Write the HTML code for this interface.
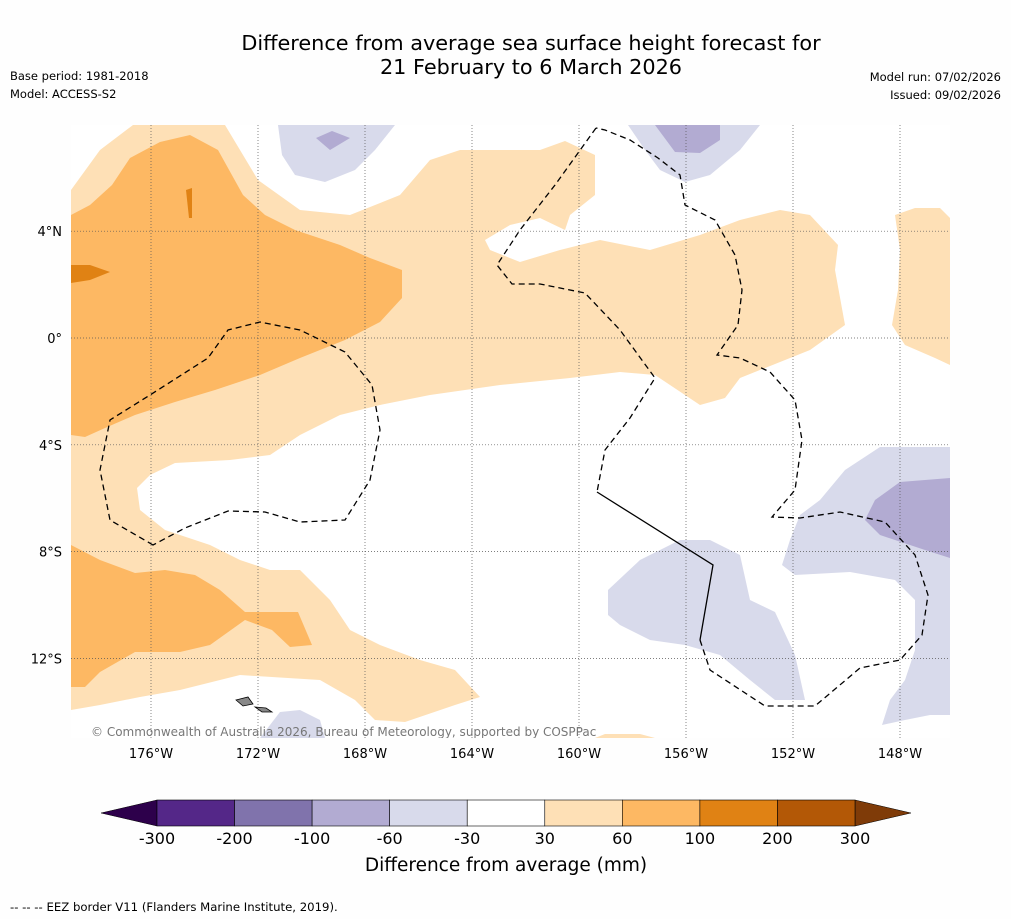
<!DOCTYPE html>
<html><head><meta charset="utf-8"><style>
body{margin:0;background:#fff;font-family:"DejaVu Sans",sans-serif;}
svg text{font-family:"DejaVu Sans",sans-serif;}
</style></head><body>
<svg id="chart" width="1011" height="919" viewBox="0 0 1011 919" xmlns="http://www.w3.org/2000/svg">
<rect width="1011" height="919" fill="#fefefe"/>
<text x="531" y="50" font-size="20.8" text-anchor="middle">Difference from average sea surface height forecast for</text>
<text x="531" y="74" font-size="20.8" text-anchor="middle">21 February to 6 March 2026</text>
<text x="10" y="80" font-size="11.5">Base period: 1981-2018</text>
<text x="10" y="98" font-size="11.5">Model: ACCESS-S2</text>
<text x="1001" y="81" font-size="11.5" text-anchor="end">Model run: 07/02/2026</text>
<text x="1001" y="99" font-size="11.5" text-anchor="end">Issued: 09/02/2026</text>
<g id="map">
<clipPath id="clip"><rect x="71" y="125" width="879" height="613"/></clipPath>
<g clip-path="url(#clip)">
<rect x="71" y="125" width="879" height="613" fill="#fff"/>
<polygon fill="#fee0b6" points="71,190 100,150 133,125 225,125 258,180 300,210 350,215 400,195 430,160 460,150 540,150 565,141 595,155 595,195 570,215 565,230 540,218 510,225 485,240 490,250 520,262 560,250 600,240 650,250 700,235 740,220 780,210 810,215 838,245 835,270 845,325 810,350 740,378 725,398 700,405 670,385 655,375 620,372 570,378 500,385 430,395 380,405 340,415 300,435 270,455 230,460 175,463 150,475 137,488 140,510 165,530 210,545 240,560 270,570 300,570 330,600 350,630 380,645 420,660 455,670 480,697 455,705 405,722 375,720 355,700 320,680 240,675 180,690 140,697 100,705 71,710"/>
<polygon fill="#fee0b6" points="895,215 915,208 940,208 950,218 950,365 935,358 905,345 892,325 898,290 900,250"/>
<polygon fill="#fee0b6" points="595,738 605,734 640,734 655,738"/>
<polygon fill="#fdb863" points="71,215 90,205 112,185 130,158 160,142 190,135 218,150 243,195 265,215 295,230 340,245 370,258 402,270 402,298 380,322 345,340 300,358 260,375 215,390 175,402 135,415 105,428 85,437 71,435"/>
<polygon fill="#e08214" points="71,265 90,265 110,272 90,280 71,283"/>
<polygon fill="#e08214" points="186,190 192,188 192,218 189,218"/>
<polygon fill="#fdb863" points="71,545 100,560 135,573 165,570 195,575 220,590 245,612 298,612 312,645 290,647 272,630 245,620 210,645 180,652 135,652 100,672 85,687 71,687"/>
<polygon fill="#d8daeb" points="278,125 395,125 375,150 355,170 325,182 295,175 282,155"/>
<polygon fill="#b2abd2" points="316,138 332,131 350,138 330,150"/>
<polygon fill="#d8daeb" points="628,125 760,125 740,150 710,175 685,182 660,170 645,150"/>
<polygon fill="#b2abd2" points="655,125 720,125 720,140 700,153 675,152"/>
<polygon fill="#d8daeb" points="608,590 640,560 680,540 710,540 740,555 750,600 775,612 795,655 805,700 775,700 750,680 720,655 685,645 650,640 620,625 608,615"/>
<polygon fill="#d8daeb" points="950,447 880,447 845,470 820,500 800,515 790,540 782,565 795,575 850,572 895,580 915,600 915,650 905,680 890,700 882,725 905,720 930,715 950,715"/>
<polygon fill="#b2abd2" points="950,478 900,482 875,500 865,520 880,535 925,550 950,558"/>
<polygon fill="#d8daeb" points="260,738 280,712 300,710 320,720 325,738"/>
<g id="grid" stroke="#555" stroke-width="0.7" stroke-dasharray="1,2"></g>
<path fill="none" stroke="#000" stroke-width="1.3" stroke-dasharray="6,4" d="M153,545 L110,520 L100,470 L110,420 L150,395 L208,358 L228,330 L260,322 L300,330 L345,352 L372,385 L380,430 L370,480 L345,520 L300,522 L265,512 L228,511 L185,528 Z"/>
<path fill="none" stroke="#000" stroke-width="1.3" stroke-dasharray="6,4" d="M596,128 L555,185 L520,230 L497,265 L512,284 L540,284 L585,293 L620,330 L655,378 L630,418 L605,450 L597,492 M700,640 L710,670 L765,706 L815,706 L860,668 L900,660 L922,635 L928,595 L915,555 L885,522 L840,512 L800,518 L772,517 L795,490 L802,440 L795,400 L770,372 L740,358 L717,355 L738,325 L742,290 L735,255 L715,220 L685,205 L680,175 L658,158 L630,140 L605,130 L596,128"/>
<path fill="none" stroke="#000" stroke-width="1.3" d="M597,492 L713,565 L700,640"/>
<polygon fill="#888" stroke="#000" stroke-width="0.8" points="236,700 248,697 253,704 243,706"/>
<polygon fill="#888" stroke="#000" stroke-width="0.8" points="255,707 266,708 272,712 262,712"/>
<text x="91" y="736" font-size="12" fill="#777">© Commonwealth of Australia 2026, Bureau of Meteorology, supported by COSPPac</text>
</g>
<g id="axes"></g>
</g>
<g id="colorbar"></g>
<text x="506" y="871" font-size="18.5" text-anchor="middle">Difference from average (mm)</text>
<text x="10" y="911" font-size="11.7">--  --  -- EEZ border V11 (Flanders Marine Institute, 2019).</text>
</svg>
<script>
const lonTicks = [-176,-172,-168,-164,-160,-156,-152,-148];
const latTicks = [4,0,-4,-8,-12];
const cbLevels = [-300,-200,-100,-60,-30,30,60,100,200,300];
const cbColors = ['#542788','#8073ac','#b2abd2','#d8daeb','#ffffff','#fee0b6','#fdb863','#e08214','#b35806'];
const NS='http://www.w3.org/2000/svg';
function xLon(l){return 151+(l+176)*26.75;}
function yLat(l){return 338-l*26.7;}
function mk(t,a,p){const e=document.createElementNS(NS,t);for(const k in a)e.setAttribute(k,a[k]);p.appendChild(e);return e;}
const grid=document.getElementById('grid'),axes=document.getElementById('axes');
lonTicks.forEach(l=>{
  const g=mk('line',{x1:xLon(l),x2:xLon(l),y1:125,y2:738},grid);
  
  
  const t=mk('text',{x:xLon(l),y:758,'font-size':13,'text-anchor':'middle'},axes);
  t.textContent=Math.abs(l)+'°W';
  
  
});
latTicks.forEach(l=>{
  const g=mk('line',{x1:71,x2:950,y1:yLat(l),y2:yLat(l)},grid);
  
  
  const t=mk('text',{x:62,y:yLat(l)+5,'font-size':13,'text-anchor':'end'},axes);
  t.textContent=l===0?'0°':Math.abs(l)+'°'+(l>0?'N':'S');
  
  
});
const cb=document.getElementById('colorbar');
const cx0=157,cx1=855,cy=800,ch=26,sw=(cx1-cx0)/cbColors.length;
const lt=mk('polygon',{points:`${cx0},${cy} ${cx0},${cy+ch} 101,${cy+ch/2}`,fill:'#2d004b',stroke:'#000','stroke-width':0.5},cb);


const rt=mk('polygon',{points:`${cx1},${cy} ${cx1},${cy+ch} 911,${cy+ch/2}`,fill:'#7f3b08',stroke:'#000','stroke-width':0.5},cb);


cbColors.forEach((c,i)=>{
  const r=mk('rect',{x:cx0+i*sw,y:cy,width:sw,height:ch,fill:c,stroke:'#000','stroke-width':0.6},cb);
  
  
});
cbLevels.forEach((v,i)=>{
  const t=mk('text',{x:cx0+i*sw,y:844,'font-size':16,'text-anchor':'middle'},cb);
  t.textContent=v;
  
  
});
</script>
</body></html>
